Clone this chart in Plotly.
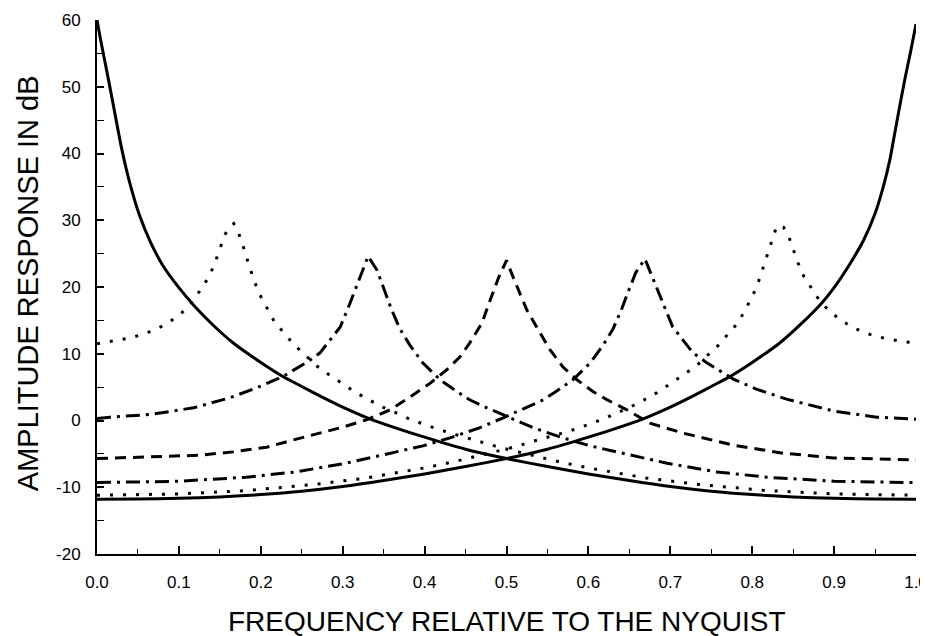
import plotly.graph_objects as go

# ---- data ----
# solid curve with its peak at 0
solid_lo_x = [0, 0.004, 0.008, 0.012, 0.016, 0.022, 0.03, 0.04, 0.052, 0.065, 0.08, 0.1, 0.12,
              0.14, 0.166, 0.2, 0.227, 0.25, 0.275, 0.3, 0.33, 0.35, 0.4, 0.45, 0.5, 0.55, 0.6,
              0.65, 0.7, 0.75, 0.8, 0.85, 0.9, 0.95, 1.0]
solid_lo_y = [60, 57.3, 54.8, 52.3, 49.8, 45.9, 40.8, 35.6, 30.7, 26.8, 23.3, 19.9, 17.0,
              14.5, 11.65, 8.7, 6.6, 5.1, 3.5, 2.0, 0.4, -0.5, -2.5, -4.3, -5.7, -6.9, -8.0,
              -9.0, -9.9, -10.6, -11.1, -11.45, -11.65, -11.75, -11.8]
# solid curve with its peak at 1.0
solid_hi_x = [0, 0.05, 0.1, 0.15, 0.2, 0.25, 0.3, 0.35, 0.4, 0.45, 0.5, 0.55, 0.6, 0.65, 0.67,
              0.7, 0.725, 0.75, 0.773, 0.8, 0.834, 0.86, 0.885, 0.9, 0.92, 0.936, 0.95, 0.96,
              0.968, 0.974, 0.98, 0.987, 0.993, 0.997, 1.0]
solid_hi_y = [-11.8, -11.75, -11.65, -11.45, -11.1, -10.6, -9.9, -9.0, -8.0, -6.9, -5.7, -4.3,
              -2.5, -0.5, 0.4, 2.0, 3.5, 5.1, 6.6, 8.7, 11.65, 14.5, 17.6, 19.9, 23.6, 27.0,
              31.0, 35.0, 39.0, 43.0, 47.0, 51.5, 55.0, 57.5, 59.4]
# dotted curve with its peak at 1/6
dot_lo_x = [0, 0.02, 0.038, 0.056, 0.073, 0.089, 0.104, 0.117, 0.127, 0.137, 0.144, 0.15, 0.156,
            0.162, 0.167, 0.172, 0.178, 0.186, 0.192, 0.199, 0.208, 0.217, 0.23, 0.24, 0.256,
            0.268, 0.284, 0.3, 0.316, 0.332, 0.349, 0.366, 0.382, 0.398, 0.416, 0.435, 0.451,
            0.47, 0.488, 0.504, 0.565, 0.6, 0.635, 0.67, 0.736, 0.818, 0.9, 1.0]
dot_lo_y = [11.5, 11.9, 12.3, 12.9, 13.7, 14.8, 16.2, 17.8, 19.6, 21.6, 23.6, 25.7, 27.8,
            29.0, 29.5, 28.4, 26.3, 23.1, 20.9, 18.8, 16.7, 14.7, 12.9, 11.4, 9.6,
            8.2, 6.8, 5.5, 4.2, 3.1, 2.0, 1.1, 0.2, -0.5, -1.3, -2.0, -2.6,
            -3.2, -3.9, -4.4, -6.2, -7.1, -7.9, -8.6, -9.6, -10.5, -11.0, -11.2]
# dotted curve with its peak at 5/6
dot_hi_x = [0, 0.1, 0.182, 0.264, 0.33, 0.365, 0.4, 0.435, 0.496, 0.512, 0.53, 0.549, 0.565,
            0.584, 0.602, 0.618, 0.634, 0.651, 0.668, 0.684, 0.7, 0.716, 0.732, 0.744, 0.76,
            0.77, 0.783, 0.792, 0.801, 0.808, 0.814, 0.822, 0.828, 0.833, 0.838, 0.844, 0.85,
            0.856, 0.863, 0.873, 0.883, 0.896, 0.911, 0.927, 0.944, 0.962, 0.98, 1.0]
dot_hi_y = [-11.2, -11.0, -10.5, -9.6, -8.6, -7.9, -7.1, -6.2, -4.4, -3.9, -3.2, -2.6, -2.0,
            -1.3, -0.5, 0.2, 1.1, 2.0, 3.1, 4.2, 5.5, 6.8, 8.2, 9.6, 11.4,
            12.9, 14.7, 16.7, 18.8, 20.9, 23.1, 26.3, 28.4, 29.3, 29.0, 27.8, 25.7,
            23.6, 21.6, 19.6, 17.8, 16.2, 14.8, 13.7, 12.9, 12.3, 11.9, 11.6]
# dash-dot curve with its peak at 1/3
dd_lo_x = [0, 0.016, 0.065, 0.118, 0.162, 0.195, 0.227, 0.256, 0.272, 0.284, 0.297, 0.309,
           0.32, 0.331, 0.342, 0.352, 0.36, 0.37, 0.382, 0.398, 0.419, 0.44, 0.455, 0.476,
           0.504, 0.533, 0.569, 0.602, 0.638, 0.663, 0.696, 0.757, 0.818, 0.9, 1.0]
dd_lo_y = [0.3, 0.5, 0.9, 1.9, 3.4, 4.9, 6.6, 8.7, 10.1, 12.0, 14.0, 17.6,
           21.0, 24.6, 22.5, 19.1, 16.5, 13.7, 11.3, 8.6, 6.1, 4.3, 3.1, 1.9,
           0.4, -1.1, -2.6, -3.8, -4.8, -5.5, -6.4, -7.7, -8.5, -9.1, -9.3]
# dash-dot curve with its peak at 2/3
dd_hi_x = [0, 0.1, 0.182, 0.243, 0.304, 0.337, 0.362, 0.398, 0.431, 0.467, 0.496, 0.524,
           0.545, 0.56, 0.581, 0.602, 0.618, 0.63, 0.64, 0.648, 0.658, 0.669, 0.68, 0.691,
           0.703, 0.716, 0.728, 0.744, 0.777, 0.805, 0.842, 0.9, 0.952, 1.0]
dd_hi_y = [-9.3, -9.1, -8.5, -7.7, -6.4, -5.5, -4.8, -3.8, -2.6, -1.1, 0.4, 1.9,
           3.1, 4.3, 6.1, 8.6, 11.3, 13.7, 16.5, 19.1, 22.2, 24.2, 21.0, 17.6,
           14.0, 12.0, 10.1, 8.7, 6.2, 4.7, 3.2, 1.4, 0.5, 0.2]
# dashed curve with its peak at 1/2
dash_x = [0, 0.06, 0.126, 0.166, 0.207, 0.24, 0.272, 0.3, 0.329, 0.358, 0.382, 0.407, 0.427,
          0.443, 0.455, 0.47, 0.48, 0.49, 0.5, 0.508, 0.525, 0.541, 0.553, 0.569, 0.586,
          0.606, 0.623, 0.647, 0.675, 0.716, 0.777, 0.838, 0.899, 1.0]
dash_y = [-5.7, -5.5, -5.2, -4.7, -4.0, -2.9, -1.9, -1.0, 0.1, 1.6, 3.5, 5.6, 7.6,
          9.5, 11.6, 14.6, 18.0, 21.3, 24.0, 21.5, 16.5, 13.1, 10.6, 8.0, 6.1,
          4.3, 3.1, 1.6, -0.4, -1.9, -3.7, -4.9, -5.6, -5.9]

x_ticks = [0.0, 0.1, 0.2, 0.3, 0.4, 0.5, 0.6, 0.7, 0.8, 0.9, 1.0]
x_tick_text = ["0.0", "0.1", "0.2", "0.3", "0.4", "0.5", "0.6", "0.7", "0.8", "0.9", "1.0"]
y_ticks = [-20, -10, 0, 10, 20, 30, 40, 50, 60]
y_tick_text = ["-20", "-10", "0", "10", "20", "30", "40", "50", "60"]
x_title = "FREQUENCY RELATIVE TO THE NYQUIST"
y_title = "AMPLITUDE RESPONSE IN dB"

FONT = "Liberation Sans, Arial, Helvetica, sans-serif"

series = [
    (solid_lo_x, solid_lo_y, "solid", "spline"),
    (solid_hi_x, solid_hi_y, "solid", "spline"),
    (dot_lo_x, dot_lo_y, "3px,10px", "linear"),
    (dot_hi_x, dot_hi_y, "3px,10px", "linear"),
    (dd_lo_x, dd_lo_y, "14px,6px,3px,6px", "linear"),
    (dd_hi_x, dd_hi_y, "14px,6px,3px,6px", "linear"),
    (dash_x, dash_y, "11px,7px", "linear"),
]

fig = go.Figure()
for xs, ys, dash, shape in series:
    fig.add_trace(go.Scatter(x=xs, y=ys, mode="lines",
                             line=dict(color="black", width=3, dash=dash, shape=shape,
                                       smoothing=0.6),
                             showlegend=False, hoverinfo="skip"))

# the page adds an 8px body margin, so the figure is 8px smaller on each side
fig.update_layout(
    width=920, height=628,
    margin=dict(l=89, r=12, t=12, b=82),
    paper_bgcolor="white", plot_bgcolor="white",
    font=dict(family=FONT, color="black"),
    showlegend=False,
    annotations=[
        dict(text=x_title, xref="paper", yref="paper", x=0.5, y=-0.1256,
             xanchor="center", yanchor="middle", showarrow=False,
             font=dict(size=28, family=FONT, color="black")),
        dict(text=y_title, xref="paper", yref="paper", x=-0.084, y=0.5075,
             xanchor="center", yanchor="middle", textangle=-90, showarrow=False,
             font=dict(size=29, family=FONT, color="black")),
    ],
)
fig.update_xaxes(
    range=[0, 1.0], tickvals=x_ticks, ticktext=x_tick_text, automargin=False,
    showgrid=False, zeroline=False,
    showline=True, linecolor="black", linewidth=2,
    ticks="inside", ticklen=8, tickwidth=1.5, tickcolor="black",
    minor=dict(tickvals=[0.05, 0.15, 0.25, 0.35, 0.45, 0.55, 0.65, 0.75, 0.85, 0.95],
               ticks="inside", ticklen=5, tickwidth=1, tickcolor="black"),
    tickfont=dict(size=17, family=FONT), ticklabelstandoff=12,
    ticklabeloverflow="allow",
)
fig.update_yaxes(
    range=[-20, 60], tickvals=y_ticks, ticktext=y_tick_text, automargin=False,
    showgrid=False, zeroline=False,
    showline=True, linecolor="black", linewidth=2,
    ticks="inside", ticklen=7, tickwidth=1.5, tickcolor="black",
    minor=dict(tickvals=[-15, -5, 5, 15, 25, 35, 45, 55],
               ticks="inside", ticklen=7, tickwidth=1, tickcolor="black"),
    tickfont=dict(size=17, family=FONT), ticklabelstandoff=11,
    ticklabeloverflow="allow",
)

fig.write_html("out.html")
